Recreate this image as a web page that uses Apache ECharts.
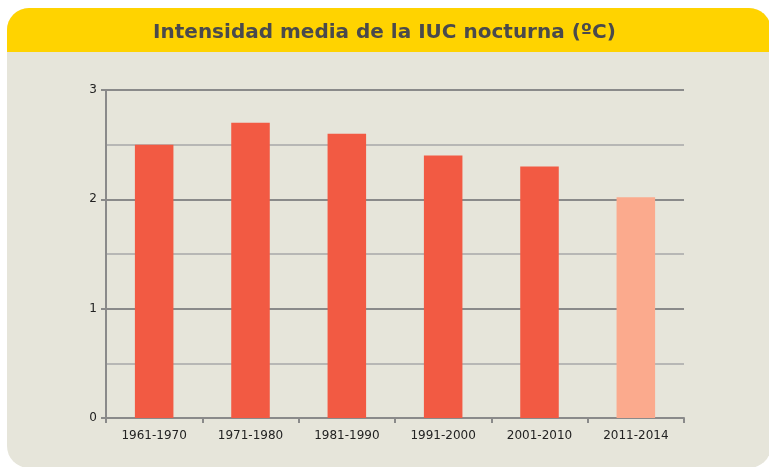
<!DOCTYPE html>
<html>
<head>
	<meta charset="utf-8">
	<title>Intensidad media de la IUC nocturna</title>
	<script src="https://cdn.jsdelivr.net/npm/echarts@6/dist/echarts.min.js"></script>
	<style>
		html, body { margin: 0; padding: 0; background: #ffffff; }
		#wrap { position: relative; width: 769px; height: 467px; overflow: hidden; }
		#box { position: absolute; left: 7px; top: 8px; width: 764px; height: 460px; border-radius: 22px; background: #e6e5da; overflow: hidden; }
		#band { height: 44px; background: #ffd300; }
		#chart { position: absolute; left: 0; top: 0; width: 769px; height: 467px; }
	</style>
</head>
<body>
	<div id="wrap">
		<div id="box"><div id="band"></div></div>
		<div id="chart"></div>
	</div>
	<script>
		var periods = ['1961-1970', '1971-1980', '1981-1990', '1991-2000', '2001-2010', '2011-2014'];
		var intensity = [2.5, 2.7, 2.6, 2.4, 2.3, 2.02];
		var barColors = ['#f25a43', '#f25a43', '#f25a43', '#f25a43', '#f25a43', '#fbaa8d'];

		var chart = echarts.init(document.getElementById('chart'), null, { renderer: 'canvas' });
		chart.setOption({
			animation: false,
			title: {
				text: 'Intensidad media de la IUC nocturna (ºC)',
				left: 'center',
				top: 18,
				textStyle: {
					fontFamily: 'DejaVu Sans',
					fontWeight: 'bold',
					fontSize: 20,
					color: '#4a4a4c'
				}
			},
			grid: { left: 106, right: 85, top: 90, bottom: 49 },
			xAxis: {
				type: 'category',
				data: periods,
				axisLine: { lineStyle: { color: '#8a8a8a', width: 2 } },
				axisTick: { show: true, length: 5, lineStyle: { color: '#8a8a8a', width: 2 } },
				axisLabel: { color: '#222222', fontSize: 12, fontFamily: 'DejaVu Sans', margin: 12 }
			},
			yAxis: {
				type: 'value',
				min: 0,
				max: 3,
				interval: 1,
				axisLine: { show: true, lineStyle: { color: '#8a8a8a', width: 2 } },
				axisTick: { show: true, length: 5, lineStyle: { color: '#8a8a8a', width: 2 } },
				axisLabel: { color: '#222222', fontSize: 12, fontFamily: 'DejaVu Sans', margin: 9 },
				splitLine: { lineStyle: { color: '#8a8a8a', width: 2 } },
				minorTick: { show: false, splitNumber: 2 },
				minorSplitLine: { show: true, lineStyle: { color: '#b7b7b5', width: 2 } }
			},
			series: [{
				type: 'bar',
				barWidth: '40%',
				data: intensity.map(function (v, i) {
					return { value: v, itemStyle: { color: barColors[i] } };
				})
			}]
		});
	</script>
</body>
</html>
